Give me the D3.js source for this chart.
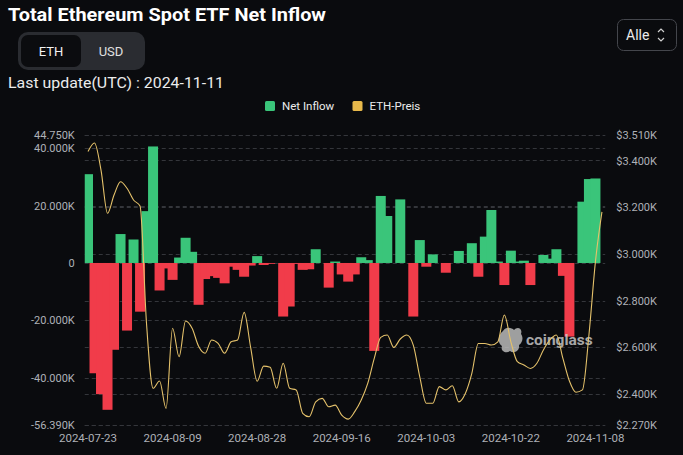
<!DOCTYPE html>
<html>
<head>
<meta charset="utf-8">
<script src="https://cdn.jsdelivr.net/npm/d3@7/dist/d3.min.js"></script>
<style>
  html, body { margin: 0; padding: 0; background: #0a0b0e; }
  svg { display: block; }
</style>
</head>
<body>
<script>
// ---------- DATA ----------
const dates = [
  "2024-07-23","2024-07-24","2024-07-25","2024-07-26","2024-07-29","2024-07-30","2024-07-31",
  "2024-08-01","2024-08-02","2024-08-05","2024-08-06","2024-08-07","2024-08-08","2024-08-09",
  "2024-08-12","2024-08-13","2024-08-14","2024-08-15","2024-08-16","2024-08-19","2024-08-20",
  "2024-08-21","2024-08-22","2024-08-23","2024-08-26","2024-08-27","2024-08-28","2024-08-29",
  "2024-08-30","2024-09-02","2024-09-03","2024-09-04","2024-09-05","2024-09-06","2024-09-09",
  "2024-09-10","2024-09-11","2024-09-12","2024-09-13","2024-09-16","2024-09-17","2024-09-18",
  "2024-09-19","2024-09-20","2024-09-23","2024-09-24","2024-09-25","2024-09-26","2024-09-27",
  "2024-09-30","2024-10-01","2024-10-02","2024-10-03","2024-10-04","2024-10-07","2024-10-08",
  "2024-10-09","2024-10-10","2024-10-11","2024-10-14","2024-10-15","2024-10-16","2024-10-17",
  "2024-10-18","2024-10-21","2024-10-22","2024-10-23","2024-10-24","2024-10-25","2024-10-28",
  "2024-10-29","2024-10-30","2024-10-31","2024-11-01","2024-11-04","2024-11-05","2024-11-06",
  "2024-11-07","2024-11-08","2024-11-11"
];

// Net inflow in thousand ETH (K)
const netInflow = [
  31.0, -38.5, -45.8, -51.26, -30.3, 10.1, -23.6,
  8.2, -17.0, 18.1, 40.68, -9.6, -1.9, -5.9,
  1.9, 8.8, 3.9, -14.6, -5.6, -4.6, -5.2,
  -7.1, -1.3, -2.4, -4.8, -0.9, 2.4, -0.7,
  -0.3, 0, -18.7, -15.2, -0.3, -2.4, -2.2,
  4.8, 0, -8.6, 0.5, -4.0, -6.5, -4.0,
  2.0, 1.0, -30.7, 23.4, 16.4, 0, 22.2,
  0, -18.7, 8.0, -1.3, 3.0, 0, -3.4,
  0, 4.2, 0, 6.9, -4.8, 9.2, 18.5,
  0.5, -7.7, 4.3, 0.5, 0.8, -7.7, 0,
  2.8, 1.5, 4.8, -4.5, -25.7, 0, 21.4,
  29.3, 29.5, null
];

// ETH price in USD
const ethPrice = [
  3438, 3475, 3359, 3174, 3252, 3309, 3281,
  3231, 3205, 2700, 2425, 2456, 2339, 2682,
  2560, 2713, 2682, 2605, 2575, 2632, 2617,
  2575, 2624, 2632, 2750, 2600, 2455, 2520,
  2515, 2425, 2532, 2425, 2418, 2318, 2303,
  2367, 2382, 2346, 2353, 2310, 2293, 2325,
  2375, 2446, 2553, 2643, 2653, 2600, 2636,
  2653, 2610, 2474, 2361, 2361, 2432, 2418,
  2436, 2367, 2403, 2489, 2617, 2617, 2610,
  2624, 2739, 2624, 2539, 2525, 2510, 2532,
  2589, 2632, 2653, 2553, 2456, 2408, 2418,
  2653, 2967, 3180
];

const leftTicks = [44.75, 40, 20, 0, -20, -40, -56.39];
const leftTickLabels = ["44.750K", "40.000K", "20.000K", "0", "-20.000K", "-40.000K", "-56.390K"];
const rightTicks = [3510, 3400, 3200, 3000, 2800, 2600, 2400, 2270];
const rightTickLabels = ["$3.510K", "$3.400K", "$3.200K", "$3.000K", "$2.800K", "$2.600K", "$2.400K", "$2.270K"];
const xTickDates = ["2024-07-23","2024-08-09","2024-08-28","2024-09-16","2024-10-03","2024-10-22","2024-11-08"];

const seriesNames = ["Net Inflow", "ETH-Preis"];

// ---------- LAYOUT ----------
const W = 683, H = 455;
const plot = { left: 84.75, right: 605.2, top: 134.8, bottom: 424.5 };
const C = {
  bg: "#0a0b0e", green: "#3ac57a", red: "#f13c4a", line: "#e5c26b",
  legendYellow: "#e8b94b", grid: "#34363b", tick: "#aeb1b7", text: "#ececec"
};
const FONT = "Roboto, 'Noto Sans', sans-serif";

const svg = d3.select("body").append("svg")
  .attr("width", W).attr("height", H)
  .style("font-family", FONT);

svg.append("rect").attr("width", W).attr("height", H).attr("fill", C.bg);

// ---------- SCALES ----------
const x = d3.scaleBand().domain(dates).range([plot.left, plot.right]).padding(0);
const yL = d3.scaleLinear().domain([-56.39, 44.75]).range([plot.bottom, plot.top]);
const yR = d3.scaleLinear().domain([2270, 3510]).range([plot.bottom, plot.top]);
const cx = d => x(d) + x.bandwidth() / 2;

// ---------- HEADER ----------
svg.append("text").attr("x", 8).attr("y", 21)
  .attr("fill", "#ffffff").attr("font-weight", 700).attr("font-size", 18)
  .attr("textLength", 318).attr("lengthAdjust", "spacingAndGlyphs")
  .text("Total Ethereum Spot ETF Net Inflow");

// toggle
svg.append("rect").attr("x", 18).attr("y", 32).attr("width", 127).attr("height", 38)
  .attr("rx", 10).attr("fill", "#2a2c31");
svg.append("rect").attr("x", 21).attr("y", 35).attr("width", 60).attr("height", 32)
  .attr("rx", 7).attr("fill", "#0b0c0f");
svg.append("text").attr("x", 51).attr("y", 55.5).attr("text-anchor", "middle")
  .attr("fill", "#f2f2f2").attr("font-size", 13).text("ETH");
svg.append("text").attr("x", 111).attr("y", 55.5).attr("text-anchor", "middle")
  .attr("fill", "#e0e0e0").attr("font-size", 13).text("USD");

svg.append("text").attr("x", 8).attr("y", 88)
  .attr("fill", C.text).attr("font-size", 15)
  .attr("textLength", 216).attr("lengthAdjust", "spacingAndGlyphs")
  .text("Last update(UTC) : 2024-11-11");

// "Alle" selector
svg.append("rect").attr("x", 617.5).attr("y", 19.5).attr("width", 59).attr("height", 31)
  .attr("rx", 6).attr("fill", "none").attr("stroke", "#44464c");
svg.append("text").attr("x", 626).attr("y", 39.5)
  .attr("fill", C.text).attr("font-size", 14).text("Alle");
svg.append("path").attr("d", "M658,32 L661,29 L664,32 M658,38 L661,41 L664,38")
  .attr("fill", "none").attr("stroke", "#d0d0d0").attr("stroke-width", 1.2);

// legend
const legend = svg.append("g");
const legendItems = [
  { name: seriesNames[0], color: C.green, x: 265 },
  { name: seriesNames[1], color: C.legendYellow, x: 352.5 }
];
legendItems.forEach(it => {
  legend.append("rect").attr("x", it.x).attr("y", 101).attr("width", 10).attr("height", 10)
    .attr("rx", 1.5).attr("fill", it.color);
  legend.append("text").attr("x", it.x + 17).attr("y", 110)
    .attr("fill", C.text).attr("font-size", 11.5).text(it.name);
});

// ---------- GRID ----------
const grid = svg.append("g");
const gridVals = leftTicks.map(v => yL(v)).concat(rightTicks.map(v => yR(v)));
grid.selectAll("line").data(gridVals).join("line")
  .attr("x1", plot.left).attr("x2", plot.right)
  .attr("y1", d => Math.round(d) + 0.5).attr("y2", d => Math.round(d) + 0.5)
  .attr("stroke", C.grid).attr("stroke-width", 1).attr("stroke-dasharray", "4,3");

// ---------- AXES ----------
const axL = svg.append("g").attr("transform", `translate(${plot.left - 7},0)`)
  .call(d3.axisLeft(yL).tickValues(leftTicks).tickSize(0)
    .tickFormat((d, i) => leftTickLabels[i]));
const axR = svg.append("g").attr("transform", `translate(${plot.right + 8},0)`)
  .call(d3.axisRight(yR).tickValues(rightTicks).tickSize(0)
    .tickFormat((d, i) => rightTickLabels[i]));
const axX = svg.append("g").attr("transform", `translate(0,${plot.bottom + 4})`)
  .call(d3.axisBottom(x).tickValues(xTickDates).tickSize(0));
[axL, axR, axX].forEach(a => {
  a.select(".domain").remove();
  a.selectAll("text").attr("fill", C.tick).attr("font-size", 11)
    .style("font-family", FONT);
});
axL.selectAll("text").attr("dx", 0);
axR.selectAll("text").attr("dx", 0);
axX.selectAll("text").attr("dy", "0.95em").attr("font-size", 11.5);

// ---------- BARS ----------
svg.append("clipPath").attr("id", "plotClip")
  .append("rect").attr("x", plot.left).attr("y", plot.top - 2)
  .attr("width", plot.right - plot.left).attr("height", plot.bottom - plot.top + 4);

const barW = 10;
const barData = dates.map((d, i) => ({ d, v: netInflow[i] })).filter(o => o.v !== null && o.v !== 0);
svg.append("g").attr("clip-path", "url(#plotClip)")
  .selectAll("rect").data(barData).join("rect")
  .attr("x", o => cx(o.d) - barW / 2)
  .attr("width", barW)
  .attr("y", o => yL(Math.max(0, o.v)))
  .attr("height", o => Math.abs(yL(o.v) - yL(0)))
  .attr("fill", o => o.v >= 0 ? C.green : C.red);

// ---------- WATERMARK ----------
const wm = svg.append("g").attr("opacity", 0.8);
wm.append("path")
  .attr("d", "M503,331 C506,326 512,328 514,330 C517,326 523,328 521,334 C524,338 522,343 519,345 C520,351 514,354 510,351 C506,354 500,351 502,346 C497,343 498,335 503,331 Z")
  .attr("fill", "#c4c4c4");
wm.append("text").attr("x", 526).attr("y", 344.5)
  .attr("fill", "#cfcfcf").attr("font-weight", 700).attr("font-size", 15.5)
  .text("coinglass");

// ---------- PRICE LINE ----------
const line = d3.line()
  .x((p, i) => cx(dates[i]))
  .y(p => yR(p))
  .curve(d3.curveMonotoneX);
svg.append("path").datum(ethPrice)
  .attr("d", line)
  .attr("fill", "none").attr("stroke", C.line).attr("stroke-width", 1.1);
</script>
</body>
</html>
